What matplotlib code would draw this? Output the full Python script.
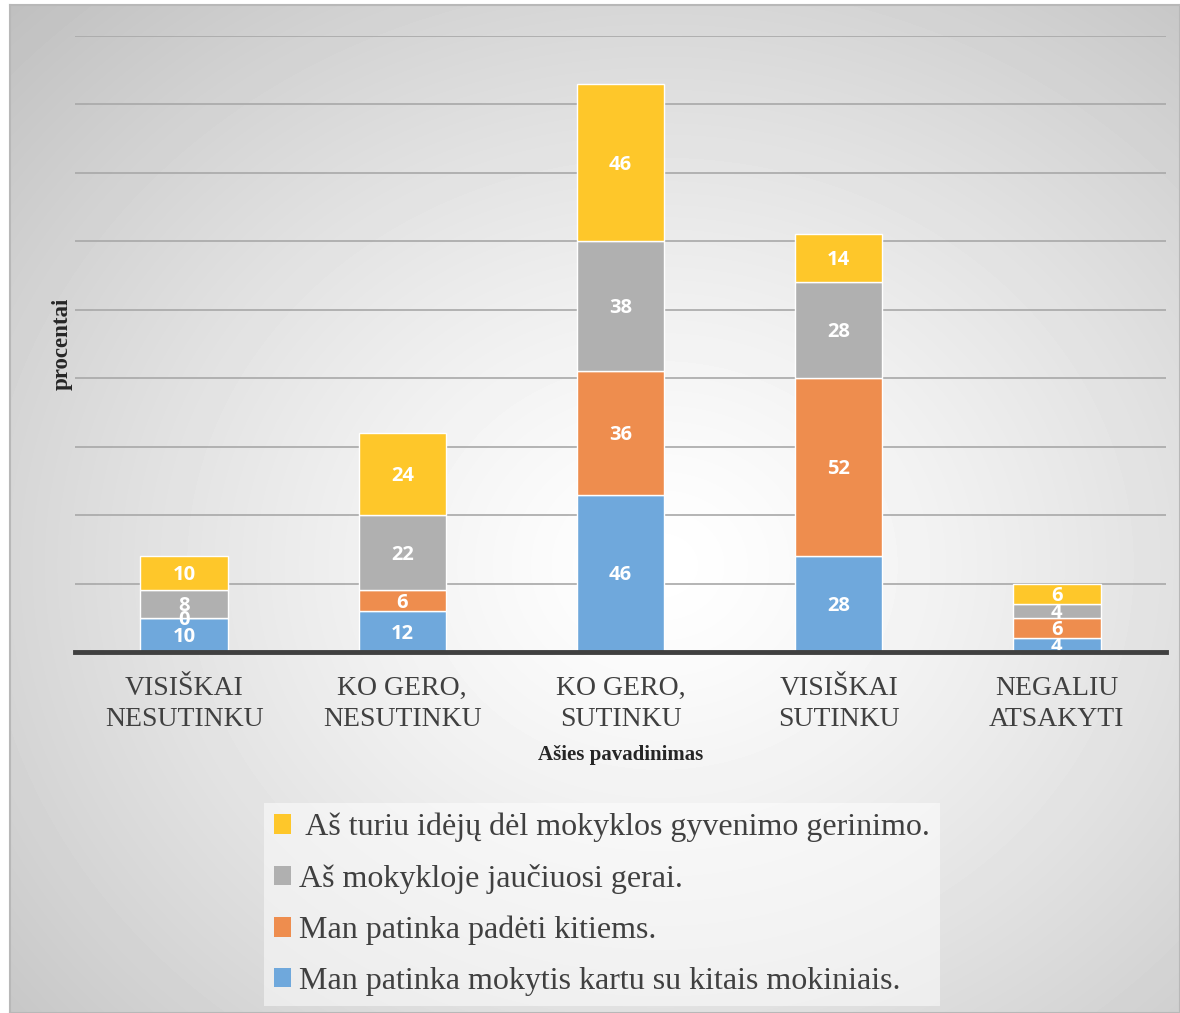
import numpy as np
import matplotlib
matplotlib.use("Agg")
import matplotlib.pyplot as plt
from matplotlib.patches import Patch

categories = ["VISIŠKAI\nNESUTINKU", "KO GERO,\nNESUTINKU", "KO GERO,\nSUTINKU",
              "VISIŠKAI\nSUTINKU", "NEGALIU\nATSAKYTI"]
mokytis = [10, 12, 46, 28, 4]
padeti = [0, 6, 36, 52, 6]
gerai = [8, 22, 38, 28, 4]
ideju = [10, 24, 46, 14, 6]

series_names = ["Man patinka mokytis kartu su kitais mokiniais.",
                "Man patinka padėti kitiems.",
                "Aš mokykloje jaučiuosi gerai.",
                " Aš turiu idėjų dėl mokyklos gyvenimo gerinimo."]
colors = ["#6fa8dc", "#ee8d4e", "#b0b0b0", "#fec72a"]

fig = plt.figure(figsize=(11.8, 10.13), dpi=100)

# radial gradient background
bg = fig.add_axes([10 / 1180, 0, 1 - 10 / 1180, 1 - 5 / 1013])
h, w = 1008, 1170
yy, xx = np.mgrid[0:h, 0:w]
d = np.sqrt(((xx - 650) / w) ** 2 + ((yy - 560) / h) ** 2)
d = d / d.max()
shade = 1 - 0.25 * d ** 1.3
bg.imshow(shade, cmap="gray", vmin=0, vmax=1, aspect="auto", interpolation="bilinear")
bg.set_xticks([])
bg.set_yticks([])
for s in bg.spines.values():
    s.set_color("#b8b8b8")
    s.set_linewidth(1.5)

ax = fig.add_axes([75 / 1180, (1013 - 652) / 1013, 1091 / 1180, (652 - 36) / 1013])
ax.set_facecolor("none")

x = np.arange(len(categories))
data = [mokytis, padeti, gerai, ideju]
bottom = np.zeros(len(categories))
for vals, col in zip(data, colors):
    vals = np.array(vals, dtype=float)
    ax.bar(x, vals, 0.4, bottom=bottom, color=col, edgecolor="white", linewidth=1, zorder=3)
    for xi, b, v in zip(x, bottom, vals):
        ax.text(xi, b + v / 2 - 0.6, str(int(v)), ha="center", va="center", color="white",
                fontsize=14.5, fontweight="bold", family="Open Sans", zorder=4)
    bottom += vals

ax.set_xlim(-0.5, 4.5)
ax.set_ylim(0, 180)
ax.set_yticks(np.arange(20, 181, 20))
ax.set_yticklabels([])
ax.tick_params(axis="y", length=0)
ax.grid(axis="y", color="#a8a8a8", linewidth=1.2, zorder=0)
ax.axhline(0, color="#404040", linewidth=3.5, zorder=5, clip_on=False)
for s in ax.spines.values():
    s.set_visible(False)

ax.set_xticks(x)
ax.set_xticklabels(categories, fontsize=20, family="Liberation Serif", color="#404040",
                   linespacing=1.35)
ax.tick_params(axis="x", length=0, pad=17)
ax.set_xlabel("Ašies pavadinimas", fontsize=15, fontweight="bold", family="Liberation Serif",
              color="#262626", labelpad=9)
ax.set_ylabel("procentai", fontsize=16.5, fontweight="bold", family="Liberation Serif",
              color="#262626", labelpad=-2)

handles = [Patch(facecolor=c, edgecolor="none") for c in colors]
leg = fig.legend(handles[::-1], series_names[::-1], loc="upper center",
                 bbox_to_anchor=(0.51, 0.207), borderaxespad=0, frameon=True, fancybox=False,
                 prop={"family": "Liberation Serif", "size": 23},
                 handlelength=0.55, handleheight=0.55, handletextpad=0.25,
                 labelspacing=0.68, borderpad=0.3, labelcolor="#404040")
leg.get_frame().set_facecolor("white")
leg.get_frame().set_alpha(0.5)
leg.get_frame().set_edgecolor("none")

fig.savefig("out.png", dpi=100)
